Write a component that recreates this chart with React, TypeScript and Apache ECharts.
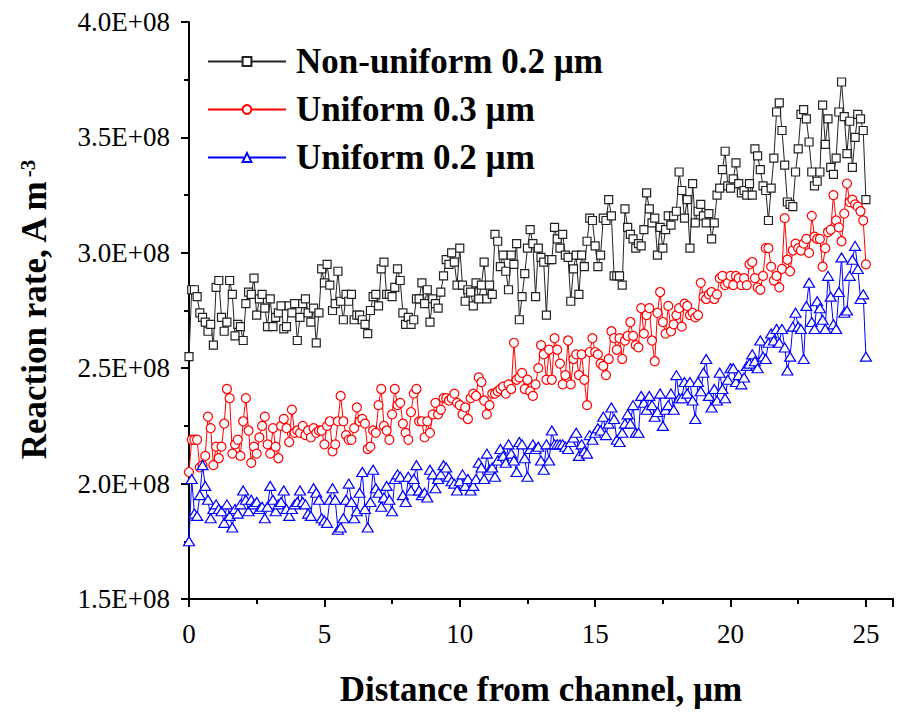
import React, { useEffect, useRef } from "react";
import * as echarts from "echarts";

// Distance from channel (µm), sampled every 0.1 µm from 0 to 25
const distance: number[] = Array.from({ length: 251 }, (_, i) => i / 10);

// Reaction rate values in units of 1E+08 A m^-3
const nonUniform02: number[] = [
  2.55, 2.84, 2.84, 2.81, 2.74, 2.72, 2.70, 2.66, 2.69, 2.60,
  2.85, 2.88, 2.72, 2.66, 2.70, 2.88, 2.82, 2.64, 2.69, 2.68,
  2.62, 2.78, 2.83, 2.82, 2.89, 2.73, 2.80, 2.82, 2.76, 2.68,
  2.80, 2.68, 2.72, 2.74, 2.77, 2.67, 2.68, 2.77, 2.74, 2.78,
  2.62, 2.72, 2.78, 2.80, 2.74, 2.70, 2.76, 2.61, 2.74, 2.93,
  2.87, 2.95, 2.86, 2.75, 2.78, 2.92, 2.79, 2.71, 2.82, 2.79,
  2.82, 2.71, 2.73, 2.73, 2.71, 2.69, 2.65, 2.75, 2.81, 2.82,
  2.77, 2.93, 2.96, 2.82, 2.82, 2.81, 2.85, 2.93, 2.88, 2.74,
  2.69, 2.72, 2.69, 2.71, 2.80,
  2.80, 2.87, 2.78, 2.84, 2.70, 2.80, 2.78, 2.76, 2.83, 2.90,
  2.97, 2.95, 3.00, 2.96, 2.86, 3.02, 2.86, 2.79, 2.84, 2.83,
  2.77, 2.87, 2.80, 2.86, 2.96, 2.80, 2.86, 2.82, 3.08, 3.05,
  2.94, 2.99, 2.92, 2.84, 2.99, 2.95, 3.04, 2.71, 2.81, 2.91,
  3.02, 3.10, 3.04, 2.81, 3.02, 2.98, 2.96, 2.73, 2.97, 2.97,
  3.11, 3.06, 3.02, 3.08, 2.99, 2.98, 2.79, 2.93, 2.99, 2.82,
  2.99, 2.94, 3.05, 3.15, 3.14, 3.03, 2.94, 2.99, 3.15, 3.14,
  3.23, 3.16, 2.90, 2.90, 2.90, 2.86, 3.19, 3.11, 3.08, 3.06,
  3.02,
  3.04, 3.03, 3.10, 3.26, 3.19, 3.13, 3.15, 2.99, 3.11, 3.02,
  3.10, 3.16, 3.12, 3.16, 3.18, 3.35, 3.27, 3.15, 3.23, 3.02,
  3.30, 3.13, 3.18, 3.21, 3.16, 3.13, 3.17, 3.06, 3.13, 3.25,
  3.28, 3.36, 3.44, 3.29, 3.28, 3.32, 3.39, 3.30, 3.26, 3.27,
  3.25, 3.30, 3.25, 3.45, 3.42, 3.36, 3.29, 3.27, 3.14, 3.28,
  3.41, 3.61, 3.65, 3.53, 3.38, 3.22, 3.21, 3.20, 3.35, 3.45,
  3.60, 3.62, 3.58, 3.48, 3.35, 3.29, 3.31, 3.35, 3.64, 3.47,
  3.58, 3.37, 3.34, 3.41, 3.61, 3.74, 3.59, 3.43, 3.57, 3.37,
  3.50, 3.60, 3.58, 3.53, 3.23,
];

const uniform03: number[] = [
  2.05, 2.19, 2.19, 2.19, 2.07, 2.08, 2.12, 2.29, 2.24, 2.08,
  2.16, 2.11, 2.16, 2.26, 2.41, 2.37, 2.13, 2.17, 2.19, 2.12,
  2.27, 2.37, 2.23, 2.09, 2.16, 2.13, 2.20, 2.25, 2.29, 2.17,
  2.13, 2.24, 2.16, 2.11, 2.25, 2.28, 2.24, 2.18, 2.32, 2.22,
  2.23, 2.22, 2.25, 2.21, 2.23, 2.20, 2.24, 2.22, 2.23, 2.23,
  2.17, 2.25, 2.27, 2.14, 2.17, 2.27, 2.38, 2.27, 2.21, 2.19,
  2.19, 2.24, 2.33, 2.27, 2.28, 2.26, 2.15, 2.16, 2.23, 2.22,
  2.34, 2.41, 2.25, 2.23, 2.19, 2.30, 2.41, 2.34, 2.35, 2.26,
  2.22, 2.19, 2.31, 2.39, 2.41,
  2.27, 2.27, 2.20, 2.27, 2.22, 2.30, 2.35, 2.30, 2.32, 2.37,
  2.37, 2.36, 2.37, 2.39, 2.35, 2.34, 2.30, 2.33, 2.28, 2.37,
  2.39, 2.38, 2.46, 2.44, 2.36, 2.30, 2.34, 2.39, 2.39, 2.40,
  2.41, 2.42, 2.39, 2.43, 2.41, 2.61, 2.45, 2.46, 2.48, 2.41,
  2.45, 2.40, 2.38, 2.43, 2.50, 2.60, 2.56, 2.45, 2.58, 2.45,
  2.63, 2.58, 2.52, 2.43, 2.47, 2.62, 2.43, 2.54, 2.56, 2.47,
  2.56, 2.45, 2.34, 2.57, 2.63, 2.57, 2.56, 2.52, 2.51, 2.47,
  2.54, 2.66, 2.63, 2.58, 2.63, 2.54, 2.62, 2.64, 2.70, 2.64,
  2.60,
  2.59, 2.76, 2.65, 2.73, 2.76, 2.62, 2.53, 2.74, 2.83, 2.70,
  2.65, 2.77, 2.66, 2.69, 2.73, 2.76, 2.68, 2.78, 2.77, 2.73,
  2.74, 2.72, 2.73, 2.87, 2.81, 2.80, 2.82, 2.83, 2.80, 2.82,
  2.89, 2.90, 2.86, 2.87, 2.90, 2.86, 2.90, 2.89, 2.86, 2.89,
  2.86, 2.95, 2.96, 2.89, 2.85, 2.84, 2.90, 3.02, 3.02, 2.94,
  2.88, 2.90, 2.85, 2.93, 3.15, 2.97, 2.92, 3.01, 3.04, 3.02,
  3.01, 3.04, 3.06, 3.00, 3.16, 3.07, 3.06, 3.06, 2.94, 3.02,
  3.09, 3.10, 3.25, 3.14, 3.11, 3.05, 3.17, 3.30, 3.22, 3.23,
  3.21, 3.20, 3.18, 3.14, 2.95,
];

const uniform02: number[] = [
  1.75, 2.02, 1.87, 1.86, 1.95, 2.08, 1.99, 1.93, 1.85, 1.89,
  1.91, 1.89, 1.88, 1.83, 1.91, 1.86, 1.81, 1.89, 1.87, 1.91,
  1.97, 1.93, 1.88, 1.93, 1.91, 1.92, 1.89, 1.90, 1.85, 1.90,
  1.99, 1.93, 1.88, 1.91, 1.92, 1.97, 1.89, 1.86, 1.89, 1.91,
  1.92, 1.97, 1.92, 1.91, 1.87, 1.86, 1.98, 1.96, 1.93, 1.85,
  1.84, 1.83, 1.93, 1.98, 1.93, 1.80, 1.81, 1.85, 1.93, 2.00,
  1.92, 1.85, 1.88, 1.96, 2.05, 1.89, 1.81, 1.92, 2.06, 1.98,
  1.96, 1.90, 1.94, 1.99, 1.93, 1.88, 2.02, 2.04, 2.03, 1.95,
  1.92, 2.03, 1.97, 2.02, 2.08,
  1.97, 1.95, 1.96, 1.94, 2.06, 2.04, 1.98, 2.02, 2.04, 2.08,
  2.07, 2.03, 2.01, 2.00, 1.97, 2.01, 2.04, 1.99, 2.02, 1.97,
  1.99, 2.02, 2.09, 2.07, 2.02, 2.13, 2.06, 2.07, 2.03, 2.10,
  2.15, 2.12, 2.09, 2.17, 2.13, 2.10, 2.05, 2.18, 2.17, 2.11,
  2.03, 2.15, 2.17, 2.15, 2.16, 2.10, 2.06, 2.17, 2.10, 2.23,
  2.17, 2.17, 2.17, 2.17, 2.16, 2.15, 2.18, 2.20, 2.22, 2.12,
  2.17, 2.14, 2.13, 2.21, 2.19, 2.22, 2.24, 2.23, 2.29, 2.21,
  2.26, 2.33, 2.28, 2.19, 2.18, 2.22, 2.26, 2.30, 2.26, 2.34,
  2.22,
  2.22, 2.38, 2.35, 2.32, 2.38, 2.34, 2.29, 2.31, 2.39, 2.25,
  2.32, 2.34, 2.39, 2.32, 2.47, 2.37, 2.37, 2.44, 2.39, 2.44,
  2.36, 2.28, 2.44, 2.40, 2.48, 2.54, 2.38, 2.33, 2.41, 2.36,
  2.48, 2.41, 2.37, 2.45, 2.50, 2.50, 2.44, 2.47, 2.43, 2.46,
  2.51, 2.52, 2.56, 2.53, 2.50, 2.62, 2.55, 2.54, 2.61, 2.65,
  2.62, 2.67, 2.61, 2.67, 2.59, 2.49, 2.55, 2.68, 2.74, 2.68,
  2.67, 2.54, 2.77, 2.87, 2.70, 2.67, 2.79, 2.76, 2.71, 2.67,
  2.90, 2.81, 2.69, 2.67, 2.83, 2.98, 2.74, 2.75, 2.90, 2.97,
  3.03, 2.93, 2.80, 2.82, 2.55,
];

const seriesNames = ["Non-uniform 0.2 \u00b5m", "Uniform 0.3 \u00b5m", "Uniform 0.2 \u00b5m"];
const FONT = "'Liberation Serif', 'Times New Roman', serif";

function toPairs(vals: number[]) {
  return vals.map((v, i) => [distance[i], v]);
}

export default function App() {
  const ref = useRef<HTMLDivElement>(null);
  useEffect(() => {
    if (!ref.current) return;
    const chart = echarts.init(ref.current, undefined, { renderer: "svg" });
    const axisCommon = {
      axisLine: { show: true, lineStyle: { color: "#000", width: 2 } },
      axisTick: { show: true, inside: false, length: 8, lineStyle: { color: "#000", width: 2 } },
      minorTick: { show: true, splitNumber: 2, length: 5, lineStyle: { color: "#000", width: 2 } },
      splitLine: { show: false },
    };
    chart.setOption({
      animation: false,
      backgroundColor: "#fff",
      grid: { left: 189, right: 4, top: 22, bottom: 116, containLabel: false, outerBoundsMode: "none" },
      legend: {
        orient: "vertical",
        left: 207,
        top: 44,
        padding: 0,
        itemWidth: 78,
        itemHeight: 11,
        itemGap: 13,
        data: seriesNames,
        textStyle: {
          fontFamily: FONT,
          fontWeight: "bold",
          fontSize: 35,
          color: "#000",
          padding: [0, 0, 0, 5],
        },
      },
      xAxis: {
        type: "value",
        min: 0,
        max: 26,
        interval: 5,
        ...axisCommon,
        axisLabel: { fontFamily: FONT, fontSize: 27, color: "#000", margin: 21, showMaxLabel: false },
        name: "Distance from channel, \u00b5m",
        nameLocation: "middle",
        nameGap: 73,
        nameTextStyle: { fontFamily: FONT, fontWeight: "bold", fontSize: 35, color: "#000" },
      },
      yAxis: {
        type: "value",
        min: 1.5,
        max: 4.0,
        interval: 0.5,
        ...axisCommon,
        axisLabel: {
          fontFamily: FONT,
          fontSize: 27,
          color: "#000",
          margin: 19,
          formatter: (v: number) => v.toFixed(1) + "E+08",
        },
        name: "Reaction rate, A m{sup|-3}",
        nameLocation: "middle",
        nameRotate: 90,
        nameGap: 137,
        nameTextStyle: {
          fontFamily: FONT,
          fontWeight: "bold",
          fontSize: 35,
          color: "#000",
          rich: {
            sup: { fontFamily: FONT, fontWeight: "bold", fontSize: 21, color: "#000", verticalAlign: "top", padding: [0, 0, 14, 2] },
          },
        },
      },
      series: [
        {
          name: seriesNames[0],
          type: "line",
          data: toPairs(nonUniform02),
          symbol: "rect",
          symbolSize: 8,
          showAllSymbol: true,
          lineStyle: { color: "#222", width: 1 },
          itemStyle: { color: "#fff", borderColor: "#222", borderWidth: 1.2 },
          z: 2,
        },
        {
          name: seriesNames[1],
          type: "line",
          data: toPairs(uniform03),
          symbol: "circle",
          symbolSize: 9,
          showAllSymbol: true,
          lineStyle: { color: "#ff0000", width: 1 },
          itemStyle: { color: "#fff", borderColor: "#ff0000", borderWidth: 1.2 },
          z: 3,
        },
        {
          name: seriesNames[2],
          type: "line",
          data: toPairs(uniform02),
          symbol: "triangle",
          symbolSize: [11, 9],
          showAllSymbol: true,
          lineStyle: { color: "#0000ff", width: 1 },
          itemStyle: { color: "#fff", borderColor: "#0000ff", borderWidth: 1.2 },
          z: 4,
        },
      ],
    });
    return () => chart.dispose();
  }, []);
  return (
    <div
      ref={ref}
      style={{ position: "absolute", left: 0, top: 0, width: 897, height: 715, background: "#fff" }}
    />
  );
}
